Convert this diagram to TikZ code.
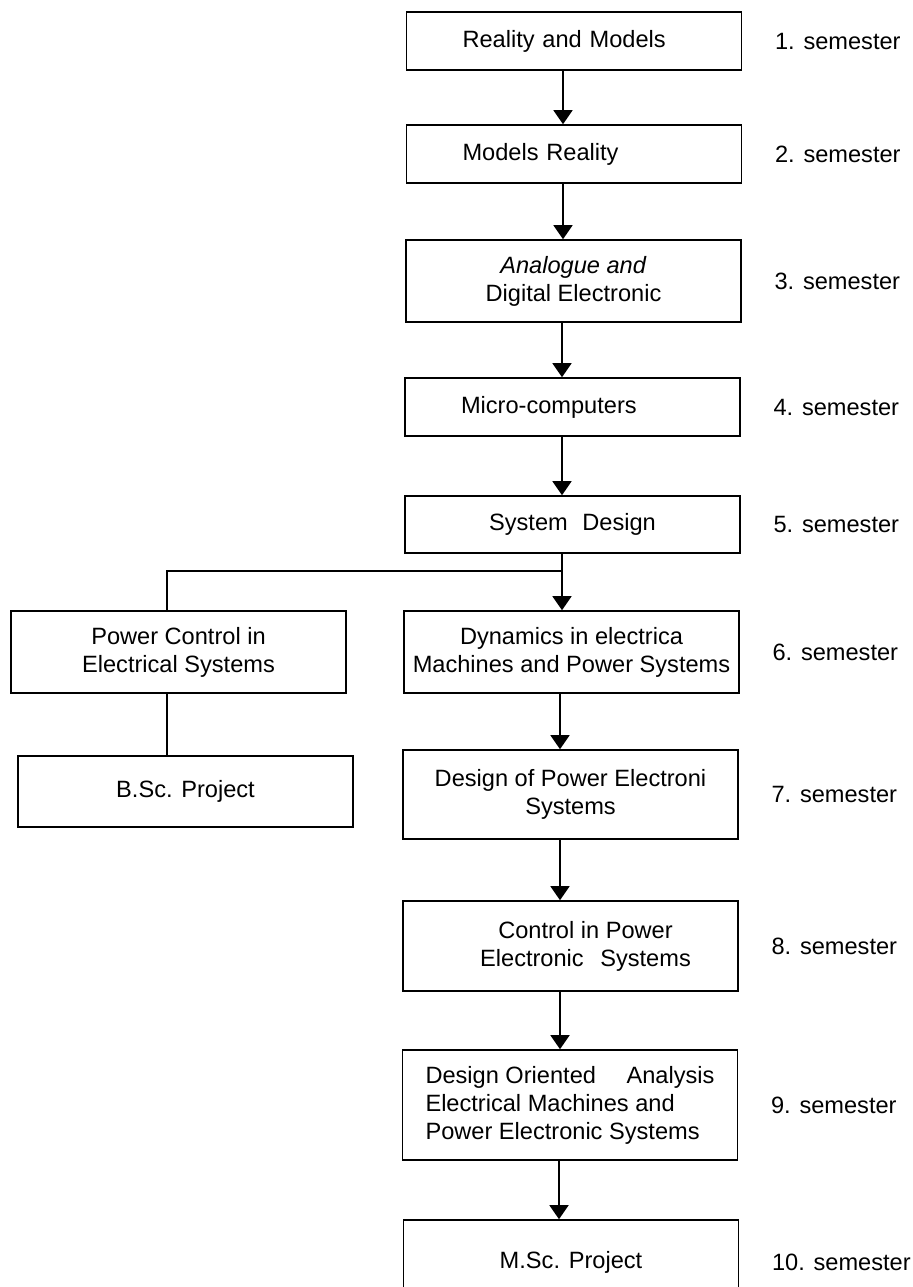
\documentclass[tikz,border=0pt]{standalone}
\usepackage{fontspec}
\setmainfont{Liberation Sans}
\usetikzlibrary{arrows.meta,positioning}

\begin{document}
\begin{tikzpicture}[
                    x  = 0.5pt,
                    y  = -0.5pt,
                    %y  = 0.5pt,
                    font = \fontsize{11.8}{14}\selectfont,
                    line width = 0.8pt,
                    course/.style = {draw, minimum width=167.5pt, align=center, inner sep=0pt},
                    leftcourse/.style = {course, text width=111.5pt, inner xsep=28pt, align=left},
                    sem/.style = {right=16pt of #1, inner sep=0pt},
                    flow/.style = {-{Triangle[length=7pt,width=9.5pt]}},
                    ]

\clip (0,0) rectangle (912,1287);

%main line
\node [leftcourse, minimum height=29pt] (r1) at (574,41) {Reality and Models};
\node [leftcourse, minimum height=29pt] (r2) at (574,154) {Models Reality};
\node [course, minimum height=41pt] (r3) at (573.5,281) {\textit{Analogue and}\\Digital Electronic};
\node [leftcourse, minimum height=29pt] (r4) at (572.5,407) {Micro-computers};
\node [course, minimum height=28.5pt] (r5) at (572.5,524.5) {System\hspace{4pt} Design};
\node [course, minimum height=41pt] (r6) at (571.5,652) {Dynamics in electrica\\Machines and Power Systems};
\node [course, minimum height=44.5pt] (r7) at (570.5,794.5) {Design of Power Electroni\\Systems};
\node [course, minimum height=45pt] (r8) at (570.5,946) {\hspace{15pt}Control in Power\\\hspace{15pt}Electronic\hspace{5pt} Systems};
\node [course, align=left, minimum height=55pt] (r9) at (570,1105)
      {Design Oriented\hspace{12pt} Analysis\\Electrical Machines and\\Power Electronic Systems};
\node [course, minimum height=42pt] (r10) at (571,1262) {M.Sc. Project};

%B.Sc. line
\node [course, minimum height=41pt] (p6) at (178.5,652) {Power Control in\\Electrical Systems};
\node [course, minimum height=35.5pt] (bsc) at (185.5,791.5) {B.Sc. Project};

%arrows
\draw [flow] ([xshift=-5.5pt]r1.south) -- ([xshift=-5.5pt]r2.north);
\draw [flow] ([xshift=-5.5pt]r2.south) -- ([xshift=-5.25pt]r3.north);
\draw [flow] ([xshift=-5.75pt]r3.south) -- ([xshift=-5.25pt]r4.north);
\draw [flow] ([xshift=-5.25pt]r4.south) -- ([xshift=-5.25pt]r5.north);
\draw [flow] ([xshift=-5.25pt]r5.south) -- ([xshift=-4.75pt]r6.north);
\draw [flow] ([xshift=-5.75pt]r6.south) -- ([xshift=-5.25pt]r7.north);
\draw [flow] ([xshift=-5.25pt]r7.south) -- ([xshift=-5.25pt]r8.north);
\draw [flow] ([xshift=-5.25pt]r8.south) -- ([xshift=-5pt]r9.north);
\draw [flow] ([xshift=-5.5pt]r9.south) -- ([xshift=-6pt]r10.north);

%branch
\draw ([xshift=-5.25pt]r5.south) -- ++(0,17) -| ([xshift=-5.75pt]p6.north);
\draw ([xshift=-5.75pt]p6.south) -- ([xshift=-9.25pt]bsc.north);

%semesters
\node [sem=r1] (s1) {1. semester};
\node [sem=r2] (s2) {2. semester};
\node [sem=r3] (s3) {3. semester};
\node [sem=r4] (s4) {4. semester};
\node [sem=r5] (s5) {5. semester};
\node [sem=r6] (s6) {6. semester};
\node [sem=r7] (s7) {7. semester};
\node [sem=r8] (s8) {8. semester};
\node [sem=r9] (s9) {9. semester};
\node [sem=r10] (s10) {10. semester};

\end{tikzpicture}
\end{document}
